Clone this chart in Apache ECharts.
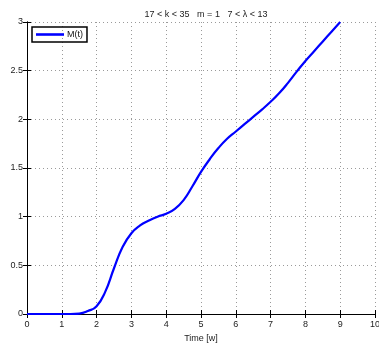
<!DOCTYPE html>
<html>
<head>
<meta charset="utf-8">
<style>
  html, body { margin: 0; padding: 0; background: #fff; }
  #chart { width: 379px; height: 343px; }
</style>
<script src="https://cdn.jsdelivr.net/npm/echarts@6/dist/echarts.min.js"></script>
</head>
<body>
<div id="chart"></div>
<script>
// Time samples [w] and the cumulative response M(t)
const timeW = [0, 0.5, 1, 1.25, 1.5, 1.75, 2, 2.25, 2.5, 2.75, 3, 3.25, 3.5, 3.75, 4, 4.25, 4.5, 4.75, 5, 5.25, 5.5, 5.75, 6, 6.25, 6.5, 6.75, 7, 7.25, 7.5, 7.75, 8, 8.25, 8.5, 8.75, 9];
const mValues = [0, 0, 0, 0, 0.004, 0.03, 0.08, 0.23, 0.47, 0.69, 0.83, 0.91, 0.96, 1.0, 1.03, 1.08, 1.17, 1.31, 1.46, 1.59, 1.705, 1.80, 1.875, 1.95, 2.025, 2.10, 2.18, 2.27, 2.375, 2.49, 2.60, 2.70, 2.80, 2.90, 3.0];
const xTicks = [0, 1, 2, 3, 4, 5, 6, 7, 8, 9, 10];
const yTicks = [0, 0.5, 1, 1.5, 2, 2.5, 3];

const titleText = '17 < k < 35   m = 1   7 < λ < 13';
const xName = 'Time [w]';
const seriesName = 'M(t)';

const font = 'Liberation Sans, Arial, Helvetica, sans-serif';
const chart = echarts.init(document.getElementById('chart'), null, { renderer: 'canvas' });

const dotted = { show: true, lineStyle: { color: '#9a9a9a', type: [1, 3], width: 1 } };
const tickStyle = { show: true, inside: true, length: 4, lineStyle: { color: '#000', width: 1 } };

chart.setOption({
  animation: false,
  backgroundColor: '#fff',
  title: {
    text: titleText,
    left: 201, top: 5, textAlign: 'center',
    textStyle: { fontFamily: font, fontSize: 9, fontWeight: 'normal', color: '#222' }
  },
  legend: {
    left: 32, top: 27,
    padding: [3, 4, 3, 4],
    borderColor: '#000', borderWidth: 1.5,
    itemWidth: 28, itemHeight: 8, itemGap: 2,
    textStyle: { fontFamily: font, fontSize: 9, color: '#111', padding: [0, 0, 0, -2] },
    data: [{ name: seriesName, icon: 'path://M0,0L28,0L28,2.6L0,2.6Z' }]
  },
  grid: { left: 27, right: 4, top: 22, bottom: 29, show: false, containLabel: false, outerBoundsMode: 'none' },
  xAxis: [{
    type: 'value', min: xTicks[0], max: xTicks[xTicks.length - 1], interval: 1,
    name: xName, nameLocation: 'middle', nameGap: 13,
    nameTextStyle: { fontFamily: font, fontSize: 9, color: '#222' },
    axisLine: { show: true, onZero: false, lineStyle: { color: '#000', width: 1 } },
    axisTick: tickStyle,
    axisLabel: { fontFamily: font, fontSize: 9, color: '#222', margin: 6 },
    splitLine: dotted
  }, {
    type: 'value', position: 'top', min: 0, max: 10, interval: 1,
    axisLine: { show: true, lineStyle: { color: '#000', width: 1 } },
    axisTick: tickStyle, axisLabel: { show: false }, splitLine: { show: false }
  }],
  yAxis: [{
    type: 'value', min: yTicks[0], max: yTicks[yTicks.length - 1], interval: 0.5,
    axisLine: { show: true, onZero: false, lineStyle: { color: '#000', width: 1 } },
    axisTick: tickStyle,
    axisLabel: { fontFamily: font, fontSize: 9, color: '#222', margin: 4 },
    splitLine: dotted
  }, {
    type: 'value', position: 'right', min: 0, max: 3, interval: 0.5,
    axisLine: { show: true, lineStyle: { color: '#000', width: 1 } },
    axisTick: tickStyle, axisLabel: { show: false }, splitLine: { show: false }
  }],
  series: [{
    name: seriesName,
    type: 'line',
    data: timeW.map((t, i) => [t, mValues[i]]),
    smooth: 0.5,
    showSymbol: false, symbol: 'none',
    clip: true,
    lineStyle: { color: '#0000ff', width: 2.2 },
    itemStyle: { color: '#0000ff' }
  }]
});
</script>
</body>
</html>
